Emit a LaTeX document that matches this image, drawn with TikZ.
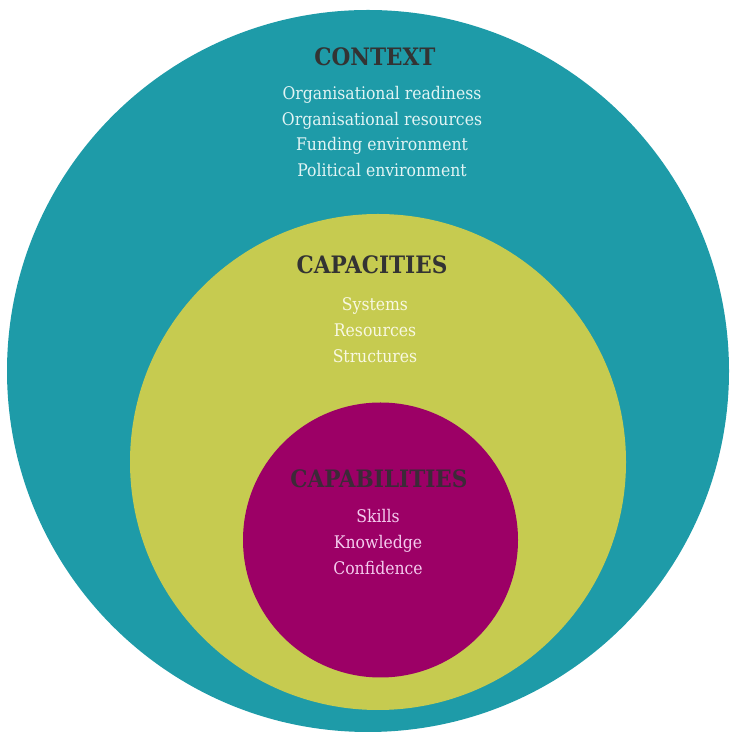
\documentclass[tikz,border=0pt]{standalone}
\usepackage{fontspec}
\setmainfont{DejaVu Serif Condensed}
\definecolor{tealc}{HTML}{1E9BA8}
\definecolor{limec}{HTML}{C6CB50}
\definecolor{magc}{HTML}{9C0066}
\definecolor{headc}{HTML}{333333}
\definecolor{headm}{HTML}{3C2A38}
\definecolor{tealtxt}{HTML}{E2F4F4}
\definecolor{limetxt}{HTML}{F8F8E2}
\definecolor{magtxt}{HTML}{F4CCEE}
\tikzset{
  head/.style={font=\fontsize{24}{28}\selectfont\bfseries, inner sep=0pt},
  body/.style={align=center, font=\fontsize{17.4}{25.7}\selectfont, inner sep=0pt},
}
\begin{document}
\begin{tikzpicture}[x=1pt,y=1pt]
\useasboundingbox (0,0) rectangle (729,733);
\clip (0,0) rectangle (729,733);
\fill[tealc] (368,362) circle (361);
\fill[limec] (378,271) circle (248);
\fill[magc] (380.5,193) circle (137.5);
\node[head, text=headc] (ctx) at (375,676) {CONTEXT};
\node[body, text=tealtxt] (ctxb) at (382,601.5) {Organisational readiness\\Organisational resources\\Funding environment\\Political environment};
\node[head, text=headc] (cap) at (372,468) {CAPACITIES};
\node[body, text=limetxt] (capb) at (375,403) {Systems\\Resources\\Structures};
\node[head, text=headm] (cab) at (379,254) {CAPABILITIES};
\node[body, text=magtxt] (cabb) at (378,191) {Skills\\Knowledge\\Confidence};
\end{tikzpicture}
\end{document}
